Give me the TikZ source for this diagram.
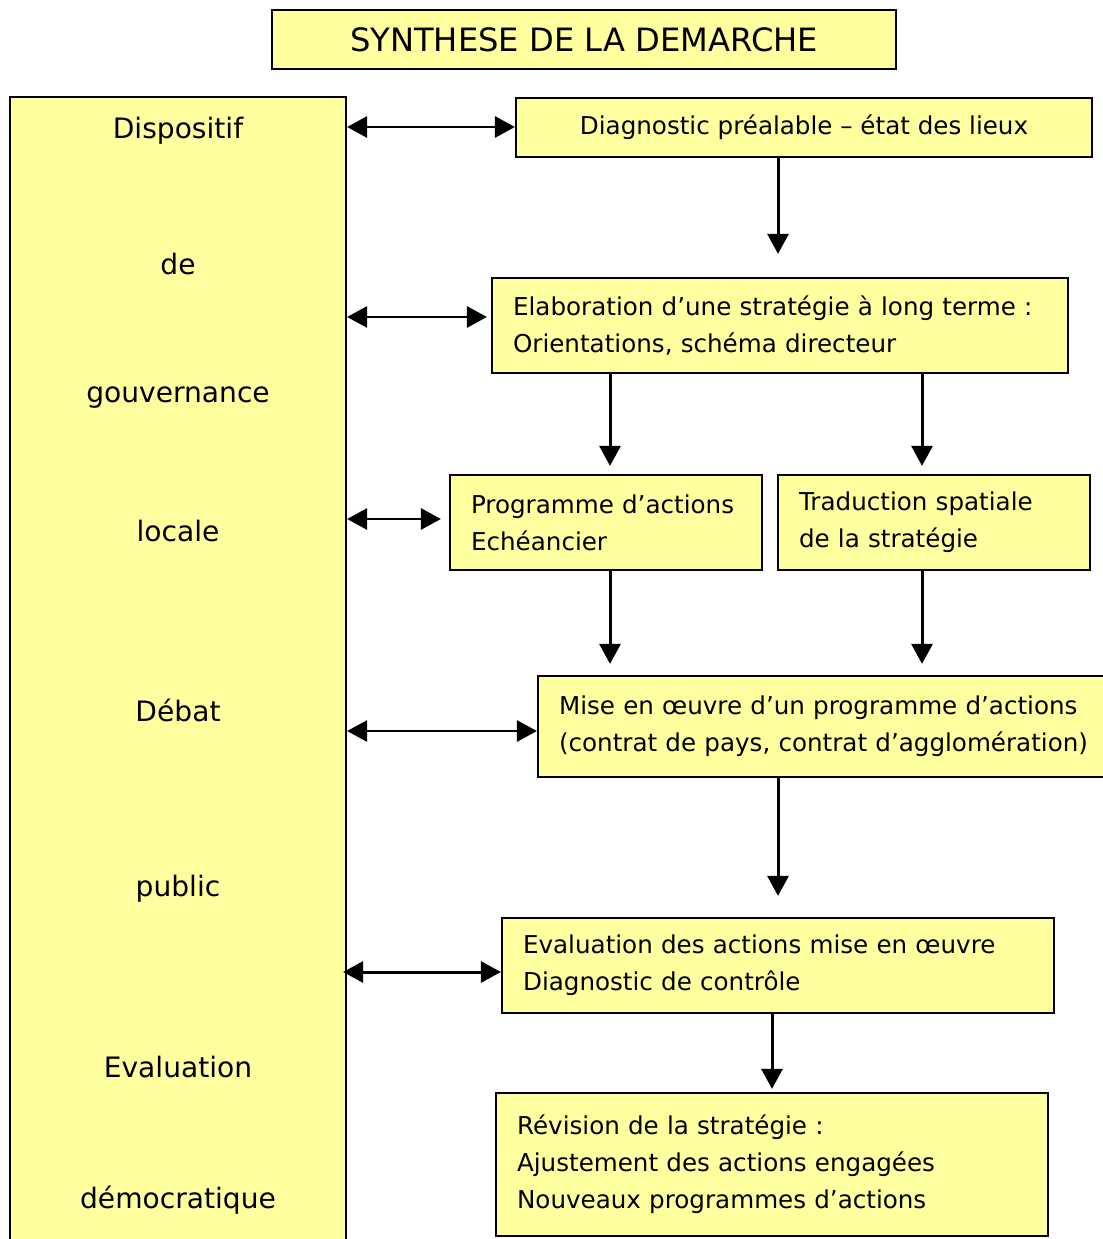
\documentclass[tikz,border=0pt]{standalone}
\usepackage{fontspec}
\setmainfont{DejaVu Sans}
\usetikzlibrary{arrows.meta}
\definecolor{boxyellow}{RGB}{255,255,160}

\tikzset{
  stage/.style={draw, fill=boxyellow, line width=1.3pt, inner xsep=0.42cm, align=left,
    font=\fontsize{14pt}{21pt}\selectfont},
  govword/.style={font=\fontsize{16pt}{18pt}\selectfont},
  arr/.style={line width=1.7pt, -{Triangle[length=0.4cm, width=0.42cm]}},
  darr/.style={line width=1.7pt, {Triangle[length=0.4cm, width=0.42cm]}-{Triangle[length=0.4cm, width=0.42cm]}}
}

\begin{document}
\begin{tikzpicture}[x=0.02cm, y=-0.02cm]
	\useasboundingbox (0,0) rectangle (1102,1239);
	% title
	\node[draw, fill=boxyellow, line width=1.3pt, minimum width=12.48cm, minimum height=1.18cm,
	  font=\fontsize{18.3pt}{20pt}\selectfont] (title) at (584,39.5) {SYNTHESE DE LA DEMARCHE};
	% left panel
	\node[draw, fill=boxyellow, line width=1.3pt, minimum width=6.72cm, minimum height=23.1cm,
	  anchor=north] (gov) at (178,96) {};
	\node[govword] (w1) at (178,131) {Dispositif};
	\node[govword] (w2) at (178,264) {de};
	\node[govword] (w3) at (178,398) {gouvernance};
	\node[govword] (w4) at (178,531) {locale};
	\node[govword] (w5) at (178,710) {Débat};
	\node[govword] (w6) at (178,889) {public};
	\node[govword] (w7) at (178,1067) {Evaluation};
	\node[govword] (w8) at (178,1200) {démocratique};
	% stages
	\node[stage, align=center, minimum width=11.52cm, minimum height=1.18cm] (diag) at (804,127.5)
	  {Diagnostic préalable – état des lieux};
	\node[stage, text width=10.68cm, minimum height=1.9cm] (strat) at (780,325.5)
	  {Elaboration d’une stratégie à long terme :\\Orientations, schéma directeur};
	\node[stage, text width=5.4cm, minimum height=1.9cm] (prog) at (606,522.5)
	  {Programme d’actions\\Echéancier};
	\node[stage, text width=5.4cm, minimum height=1.9cm] (trad) at (934,522.5)
	  {Traduction spatiale\\de la stratégie};
	\node[stage, text width=10.6cm, minimum height=2.02cm] (mise) at (824,726.5)
	  {Mise en œuvre d’un programme d’actions\\(contrat de pays, contrat d’agglomération)};
	\node[stage, text width=10.2cm, minimum height=1.9cm] (eval) at (778,965.5)
	  {Evaluation des actions mise en œuvre\\Diagnostic de contrôle};
	\node[stage, text width=10.2cm, minimum height=2.86cm] (revi) at (772,1164.5)
	  {Révision de la stratégie :\\Ajustement des actions engagées\\Nouveaux programmes d’actions};
	% vertical flow
	\draw[arr, shorten >=0.46cm] (diag.south -| 778,0) -- (strat.north -| 778,0);
	\draw[arr, shorten >=0.16cm] (strat.south -| 610,0) -- (prog.north -| 610,0);
	\draw[arr, shorten >=0.16cm] (strat.south -| 922,0) -- (trad.north -| 922,0);
	\draw[arr, shorten >=0.22cm] (prog.south -| 610,0) -- (mise.north -| 610,0);
	\draw[arr, shorten >=0.22cm] (trad.south -| 922,0) -- (mise.north -| 922,0);
	\draw[arr, shorten >=0.42cm] (mise.south -| 778,0) -- (eval.north -| 778,0);
	\draw[arr, shorten >=0.06cm] (eval.south -| 772,0) -- (revi.north -| 772,0);
	% links to the governance panel
	\draw[darr] (gov.east |- 0,127) -- (diag.west |- 0,127);
	\draw[darr, shorten >=0.08cm] (gov.east |- 0,317) -- (strat.west |- 0,317);
	\draw[darr, shorten >=0.16cm] (gov.east |- 0,519) -- (prog.west |- 0,519);
	\draw[darr] (gov.east |- 0,731) -- (mise.west |- 0,731);
	\draw[darr, shorten <=-0.08cm] (gov.east |- 0,972) -- (eval.west |- 0,972);
\end{tikzpicture}
\end{document}
